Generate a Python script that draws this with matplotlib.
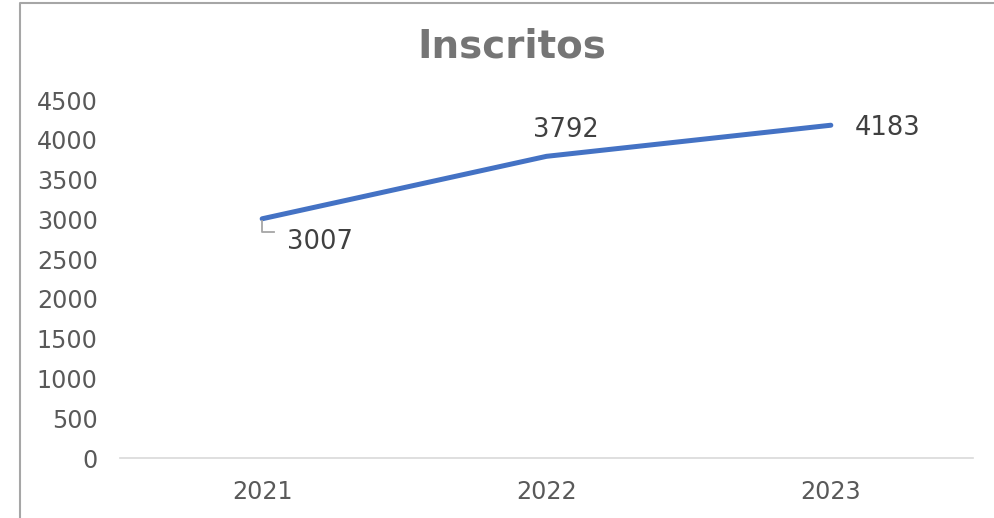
import matplotlib
matplotlib.use("Agg")
import matplotlib.pyplot as plt
from matplotlib.lines import Line2D

categories = ["2021", "2022", "2023"]
values = [3007, 3792, 4183]
yticks = [0, 500, 1000, 1500, 2000, 2500, 3000, 3500, 4000, 4500]

W, H = 995, 518
fig = plt.figure(figsize=(W / 100, H / 100), dpi=100)
fig.patch.set_facecolor("white")

ax = fig.add_axes([120 / W, 1 - 458 / H, (973 - 120) / W, (458 - 100) / H])
x = list(range(len(categories)))
ax.plot(x, values, color="#4472C4", lw=3.6, solid_capstyle="round", solid_joinstyle="round")
ax.set_xlim(-0.5, len(categories) - 0.5)
ax.set_ylim(0, 4500)
ax.set_yticks(yticks)
ax.set_xticks(x)
ax.set_xticklabels(categories)
for s in ["top", "right", "left"]:
    ax.spines[s].set_visible(False)
ax.spines["bottom"].set_color("#D9D9D9")
ax.spines["bottom"].set_linewidth(1.2)
ax.tick_params(axis="both", length=0, labelsize=17.2, labelcolor="#595959")
ax.tick_params(axis="y", pad=16)
ax.tick_params(axis="x", pad=16)

# data labels
lab_kw = dict(fontsize=18.5, color="#404040", va="center")
ax.annotate(str(values[0]), xy=(x[0], values[0]), xytext=(18, -17), textcoords="offset points",
            ha="left", **lab_kw)
ax.annotate(str(values[1]), xy=(x[1], values[1]), xytext=(14, 19), textcoords="offset points",
            ha="center", **lab_kw)
ax.annotate(str(values[2]), xy=(x[2], values[2]), xytext=(17, -2), textcoords="offset points",
            ha="left", **lab_kw)

# leader line for first label (display pixels)
px, py = ax.transData.transform((x[0], values[0]))
pts = [(px, py - 2), (px, py - 13), (px + 12, py - 13)]
fig_pts = [fig.transFigure.inverted().transform(p) for p in pts]
fig.add_artist(Line2D([p[0] for p in fig_pts], [p[1] for p in fig_pts], color="#A6A6A6", lw=1.3,
                      transform=fig.transFigure))

fig.suptitle("Inscritos", x=(418 + 606) / 2 / W, y=1 - 47 / H, va="center", fontsize=28,
             fontweight="bold", color="#757575")

# chart border
bx = 20 / W
by = 1 - 3 / H
fig.add_artist(Line2D([bx, bx, 1], [0, by, by], color="#A6A6A6", lw=1.5, transform=fig.transFigure))

fig.savefig("out.png", dpi=100, facecolor="white")
